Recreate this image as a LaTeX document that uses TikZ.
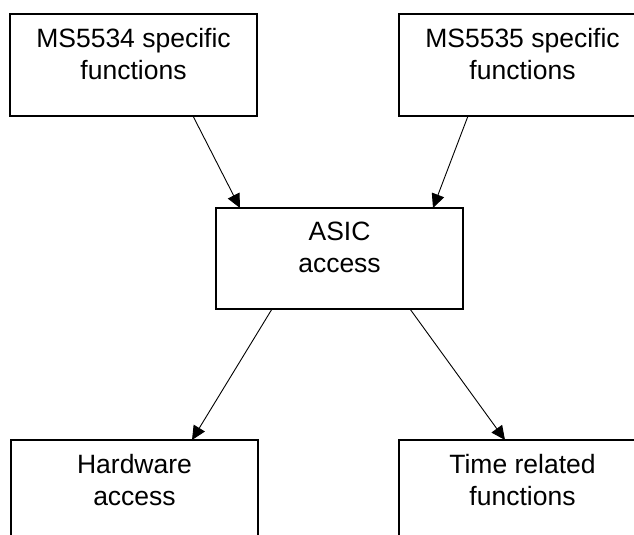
\documentclass[tikz,border=0pt]{standalone}
\usepackage{fontspec}
\setmainfont{Liberation Sans}
\usetikzlibrary{arrows.meta}
\begin{document}
\begin{tikzpicture}[x=1pt,y=-1pt,
  box/.style={draw, line width=1.5pt, minimum width=247pt, minimum height=102pt,
    anchor=north west, inner sep=0pt, outer sep=0pt},
  txt/.style={font=\fontsize{26.5}{32}\selectfont, align=center, anchor=north,
    inner sep=0pt, yshift=-14pt},
  arr/.style={line width=0.9pt, -{Triangle[length=14pt,width=13pt]}}]
\useasboundingbox (0,0) rectangle (634,535);
\clip (0,0) rectangle (634,535);

\node[box, label={[txt]north:MS5534 specific\\functions}] (tl) at (10,14) {};
\node[box, label={[txt]north:MS5535 specific\\functions}] (tr) at (399,14) {};
\node[box, minimum height=101pt, label={[txt]north:ASIC\\access}] (asic) at (216,208) {};
\node[box, label={[txt]north:Hardware\\access}] (hw) at (11,440) {};
\node[box, label={[txt]north:Time related\\functions}] (tm) at (399,440) {};

\draw[arr] ([xshift=183pt]tl.south west) -- ([xshift=24pt]asic.north west);
\draw[arr] ([xshift=69pt]tr.south west) -- ([xshift=217pt]asic.north west);
\draw[arr] ([xshift=56pt]asic.south west) -- ([xshift=181pt]hw.north west);
\draw[arr] ([xshift=194pt]asic.south west) -- ([xshift=106pt]tm.north west);
\end{tikzpicture}
\end{document}
